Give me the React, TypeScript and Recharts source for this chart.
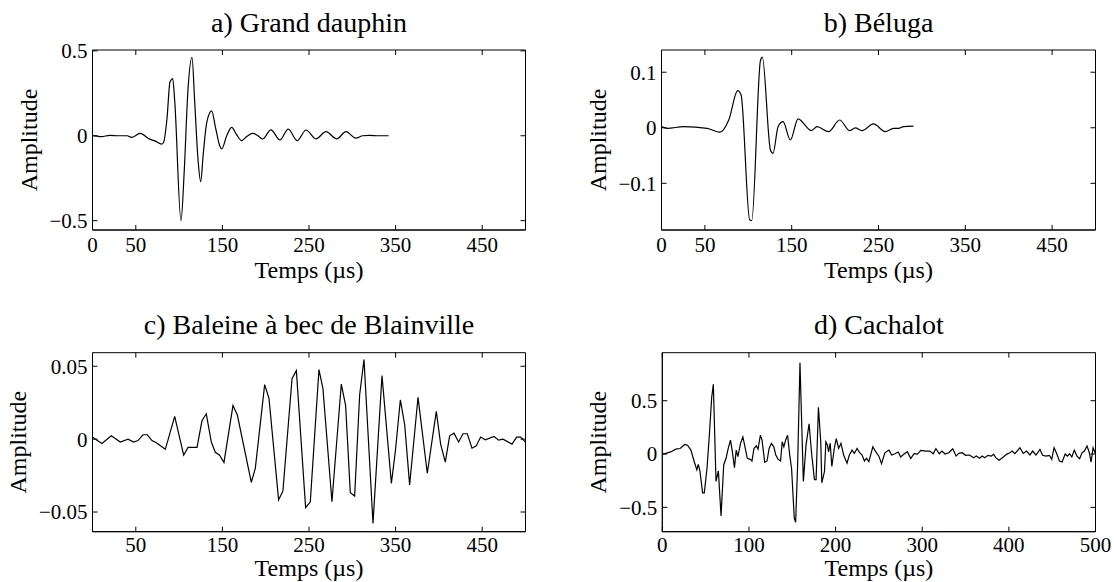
import { LineChart, Line, XAxis, YAxis, ReferenceArea } from 'recharts'

const FONT = '"Liberation Serif", "Times New Roman", Times, serif'
const W = 557
const H = 291

// a) Grand dauphin
const dauphinT = [0, 5, 10, 20, 30, 40, 45, 55, 66, 72, 80, 82, 86, 89.5, 92.6, 95, 102.2, 106, 110, 114.9, 118, 122, 124.9, 128, 132, 137.6, 142, 147, 149.2, 155, 160.7, 166, 172.2, 178, 185, 191, 196.5, 206, 216.5, 226, 236.5, 246.5, 258, 269.6, 282, 292.7, 304, 312, 320, 330, 342]
const dauphinA = [0, -0.002, -0.005, 0.002, 0, 0, -0.01, 0.014, -0.02, -0.03, -0.049, -0.04, 0.1, 0.318, 0.337, 0.2, -0.5, -0.2, 0.25, 0.461, 0.2, -0.15, -0.27, -0.1, 0.08, 0.147, 0.05, -0.06, -0.078, 0, 0.049, 0.01, -0.029, -0.005, 0.014, 0, -0.019, 0.035, -0.025, 0.039, -0.029, 0.034, -0.018, 0.024, -0.018, 0.024, -0.014, 0, 0.002, 0, 0]

// b) Béluga
const belugaT = [0, 6.6, 25.7, 52.6, 67.1, 77.5, 87.8, 91.7, 101.6, 104, 114, 116.2, 125.5, 128.5, 134.3, 140, 148.5, 157.3, 172.6, 179.2, 192.5, 205.2, 216.7, 223.3, 231, 244.3, 257.8, 267.3, 273, 278.8, 290.3]
const belugaA = [0.002, -0.001, 0.002, -0.001, -0.008, 0.014, 0.067, 0.059, -0.166, -0.167, 0.121, 0.127, -0.04, -0.046, 0.002, 0.011, -0.022, 0.016, -0.005, 0.002, -0.007, 0.014, -0.005, 0, -0.005, 0.007, -0.007, -0.001, -0.001, 0.002, 0.003]

// c) Baleine à bec de Blainville
const blainT = [0, 4.4, 10.9, 21.7, 32.1, 41, 47.5, 52.5, 58.3, 63.3, 68.7, 73.7, 84.1, 94.9, 105.3, 110.3, 120.7, 126.4, 131.4, 137.2, 141.8, 146.8, 151.8, 162.2, 167.2, 183.4, 188, 198.8, 203.8, 214.9, 219.9, 230.4, 235.4, 246.1, 251.5, 261.5, 266.1, 276.5, 287.3, 292.3, 297.7, 302.7, 308.5, 313.5, 323.9, 334.3, 345.1, 349.7, 355.5, 360.5, 366.2, 375.9, 386.6, 397, 402, 407.4, 412.4, 417.4, 422.8, 427.8, 432.8, 438.2, 443.2, 448.2, 453.6, 463.6, 469, 474, 484.4, 489.8, 494.4, 500]
const blainA = [0.0014, -0.0005, -0.003, 0.0023, -0.002, 0, -0.002, -0.001, 0.003, 0.003, -0.001, -0.0025, -0.007, 0.0156, -0.011, -0.0057, -0.0057, 0.0126, 0.0174, -0.002, -0.009, -0.011, -0.016, 0.023, 0.0167, -0.0296, -0.02, 0.0374, 0.028, -0.0417, -0.0355, 0.0415, 0.047, -0.047, -0.043, 0.0477, 0.0346, -0.043, 0.0378, 0.023, -0.0367, -0.039, 0.0305, 0.0546, -0.0578, 0.0436, -0.0303, -0.0085, 0.027, 0.0099, -0.0314, 0.0287, -0.0234, 0.019, -0.0034, -0.0158, 0.0023, 0.0041, -0.002, 0.0037, 0.0037, -0.0062, -0.0046, 0.0014, -0.0005, 0.0018, -0.0007, 0, -0.0034, 0.0014, 0.0014, -0.002]

// d) Cachalot
const cachalotT = [0, 3.9, 9.7, 15.5, 20.5, 26, 29.1, 33, 36.8, 39.9, 41.5, 43.4, 46.5, 48.5, 51.6, 54.3, 57, 58.9, 62, 64.7, 67.8, 70.9, 73.6, 75.6, 78.7, 80.6, 83.3, 85.3, 87.2, 90.3, 93, 95, 98.1, 101.6, 103.5, 105.8, 108.5, 110.5, 113.2, 115.1, 118.2, 120.9, 123.3, 126, 128.7, 131, 133.7, 136.5, 138.4, 140.3, 142.3, 144.6, 147.3, 149.2, 152.3, 153.9, 156.2, 158.9, 162.8, 165.9, 169.4, 172.5, 175.6, 177.5, 180.2, 182.9, 184.1, 187.2, 188.8, 190.7, 191.9, 193.8, 195.7, 198.5, 200.8, 203.5, 206.2, 209.3, 213.2, 215.9, 219, 221.7, 224.8, 227.5, 230.6, 233.3, 235.7, 238.4, 243, 246.1, 250, 253, 256.9, 261.6, 264.7, 268.5, 272.4, 275.1, 279, 282.9, 286.7, 290.6, 294.5, 298.4, 304.2, 308.8, 312.7, 315.8, 319.7, 322.8, 326.3, 330.6, 335.2, 339.1, 342.2, 346.1, 350, 354.6, 359.3, 362.4, 366.2, 369.3, 372, 375.9, 379.8, 382.5, 384.8, 388.7, 392.6, 397.3, 401.1, 403.8, 406.9, 412.7, 416.6, 420.5, 424.3, 427.4, 431.3, 435.9, 439, 442.9, 446.8, 449.5, 452.2, 455.3, 458.4, 461.5, 465, 467.7, 470, 472.7, 475.5, 478.6, 481.7, 484.4, 487.1, 490.2, 492.9, 494.9, 497.2, 500]
const cachalotA = [0, 0.006, 0.02, 0.046, 0.052, 0.09, 0.083, 0.037, -0.07, -0.148, -0.096, -0.157, -0.364, -0.364, -0.133, 0.176, 0.53, 0.654, -0.256, -0.157, -0.58, -0.1, -0.04, 0.037, 0.13, 0.037, -0.127, 0.037, -0.025, 0.1, 0.16, 0.083, -0.04, -0.05, -0.065, 0.052, 0.077, 0.046, 0.176, 0.13, -0.077, -0.065, 0.052, 0.1, 0.068, -0.009, -0.05, -0.065, 0.114, 0.068, 0.13, 0.176, -0.025, -0.133, -0.6, -0.64, -0.1, 0.855, -0.256, 0.083, 0.284, -0.009, -0.24, -0.24, 0.438, 0.114, -0.27, -0.164, 0.114, 0.083, 0.02, 0.1, -0.117, 0.052, 0.145, 0.052, 0.1, -0.009, -0.086, -0.009, 0.037, 0.006, 0.052, 0.015, -0.009, -0.065, -0.04, -0.071, 0.068, 0.025, -0.02, -0.09, 0.012, 0.037, -0.009, 0.003, 0.019, -0.028, 0, 0.022, -0.043, 0.003, 0, 0.034, 0.028, 0.028, 0.003, 0.05, 0.003, 0.028, 0, 0.012, 0.05, -0.019, 0.006, 0.012, -0.012, -0.009, -0.034, -0.019, -0.04, -0.019, -0.034, -0.012, -0.019, -0.003, -0.034, -0.059, -0.034, -0.003, 0.012, 0.028, 0.003, 0.059, 0.006, 0.028, -0.009, 0.028, -0.009, 0.043, -0.012, -0.019, -0.012, -0.05, 0.059, 0.003, -0.065, -0.075, 0, -0.019, 0.003, -0.028, 0.037, -0.019, -0.043, 0.012, 0.028, 0.075, 0.012, -0.075, 0.059, 0.003]

const xTicksAB = [0, 50, 150, 250, 350, 450]
const xTicksC = [50, 150, 250, 350, 450]
const xTicksD = [0, 100, 200, 300, 400, 500]

const fmt = (v: number) => (v < 0 ? '\u2212' + String(-v) : String(v))

function XTick({ x, y, payload, top, bottom }: any) {
  return (
    <g>
      <line x1={x} x2={x} y1={bottom} y2={bottom - 5} stroke="#000" />
      <line x1={x} x2={x} y1={top} y2={top + 5} stroke="#000" />
      <text x={x} y={y} dy="0.71em" textAnchor="middle" fontSize={21} fill="#000">{fmt(payload.value)}</text>
    </g>
  )
}

function YTick({ x, y, payload, left, right }: any) {
  return (
    <g>
      <line x1={left} x2={left + 5} y1={y} y2={y} stroke="#000" />
      <line x1={right - 5} x2={right} y1={y} y2={y} stroke="#000" />
      <text x={x} y={y} dy="0.355em" textAnchor="end" fontSize={21} fill="#000">{fmt(payload.value)}</text>
    </g>
  )
}

function Panel({ pos, box, title, t, a, xTicks, yTicks, yDomain, curve, off }: any) {
  const [L, T, R, B] = box
  const data = t.map((v: number, i: number) => ({ t: v, a: a[i] }))
  return (
    <div style={{ position: 'absolute', left: pos[0], top: pos[1], width: W, height: H }}>
      <LineChart width={W} height={H} data={data} margin={{ top: T, right: W - R, left: 0, bottom: 0 }}>
        <XAxis dataKey="t" type="number" domain={[0, 500]} ticks={xTicks} interval={0} allowDataOverflow
          height={H - B} tickSize={0} tickMargin={off.tick} tickLine={false} axisLine={{ stroke: '#000' }}
          tick={(p: any) => <XTick {...p} top={T} bottom={B} />}
          label={{ value: 'Temps (µs)', position: 'insideBottom', offset: off.x, fontSize: 24, fill: '#000' }} />
        <YAxis type="number" domain={yDomain} ticks={yTicks} interval={0} allowDataOverflow width={L}
          tickSize={0} tickMargin={5} tickLine={false} axisLine={{ stroke: '#000' }}
          tick={(p: any) => <YTick {...p} left={L} right={R} />}
          label={{ value: 'Amplitude', angle: -90, position: 'insideLeft', offset: off.y, fontSize: 24, fill: '#000', style: { textAnchor: 'middle' } }} />
        <ReferenceArea x1={0} x2={500} y1={yDomain[0]} y2={yDomain[1]} ifOverflow="visible"
          fill="none" fillOpacity={0} stroke="#000" strokeWidth={1}
          label={{ value: title, position: 'top', offset: off.title, fontSize: 28, fill: '#000' }} />
        <Line dataKey="a" type={curve} stroke="#000" strokeWidth={1.2} dot={false} isAnimationActive={false} />
      </LineChart>
    </div>
  )
}

export default function App() {
  return (
    <div style={{ position: 'absolute', left: 0, top: 0, width: 1114, height: 582, background: '#fff', fontFamily: FONT }}>
      <Panel pos={[0, 0]} box={[92.5, 50, 525.5, 230]} title="a) Grand dauphin" t={dauphinT} a={dauphinA}
        xTicks={xTicksAB} yTicks={[-0.5, 0, 0.5]} yDomain={[-0.555, 0.505]} curve="monotone" off={{ x: 13, y: 28.5, title: 18, tick: 7 }} />
      <Panel pos={[557, 0]} box={[104.5, 50, 538.5, 230]} title="b) Béluga" t={belugaT} a={belugaA}
        xTicks={xTicksAB} yTicks={[-0.1, 0, 0.1]} yDomain={[-0.184, 0.14]} curve="monotone" off={{ x: 13, y: 40.5, title: 17.7, tick: 7 }} />
      <Panel pos={[0, 291]} box={[92.5, 61.7, 525.5, 240.7]} title="c) Baleine à bec de Blainville" t={blainT} a={blainA}
        xTicks={xTicksC} yTicks={[-0.05, 0, 0.05]} yDomain={[-0.0635, 0.0593]} curve="linear" off={{ x: 6, y: 17.5, title: 19, tick: 5 }} />
      <Panel pos={[557, 291]} box={[105.3, 61.7, 538.5, 240.7]} title="d) Cachalot" t={cachalotT} a={cachalotA}
        xTicks={xTicksD} yTicks={[-0.5, 0, 0.5]} yDomain={[-0.728, 0.95]} curve="linear" off={{ x: 6, y: 40.5, title: 19, tick: 5 }} />
    </div>
  )
}
